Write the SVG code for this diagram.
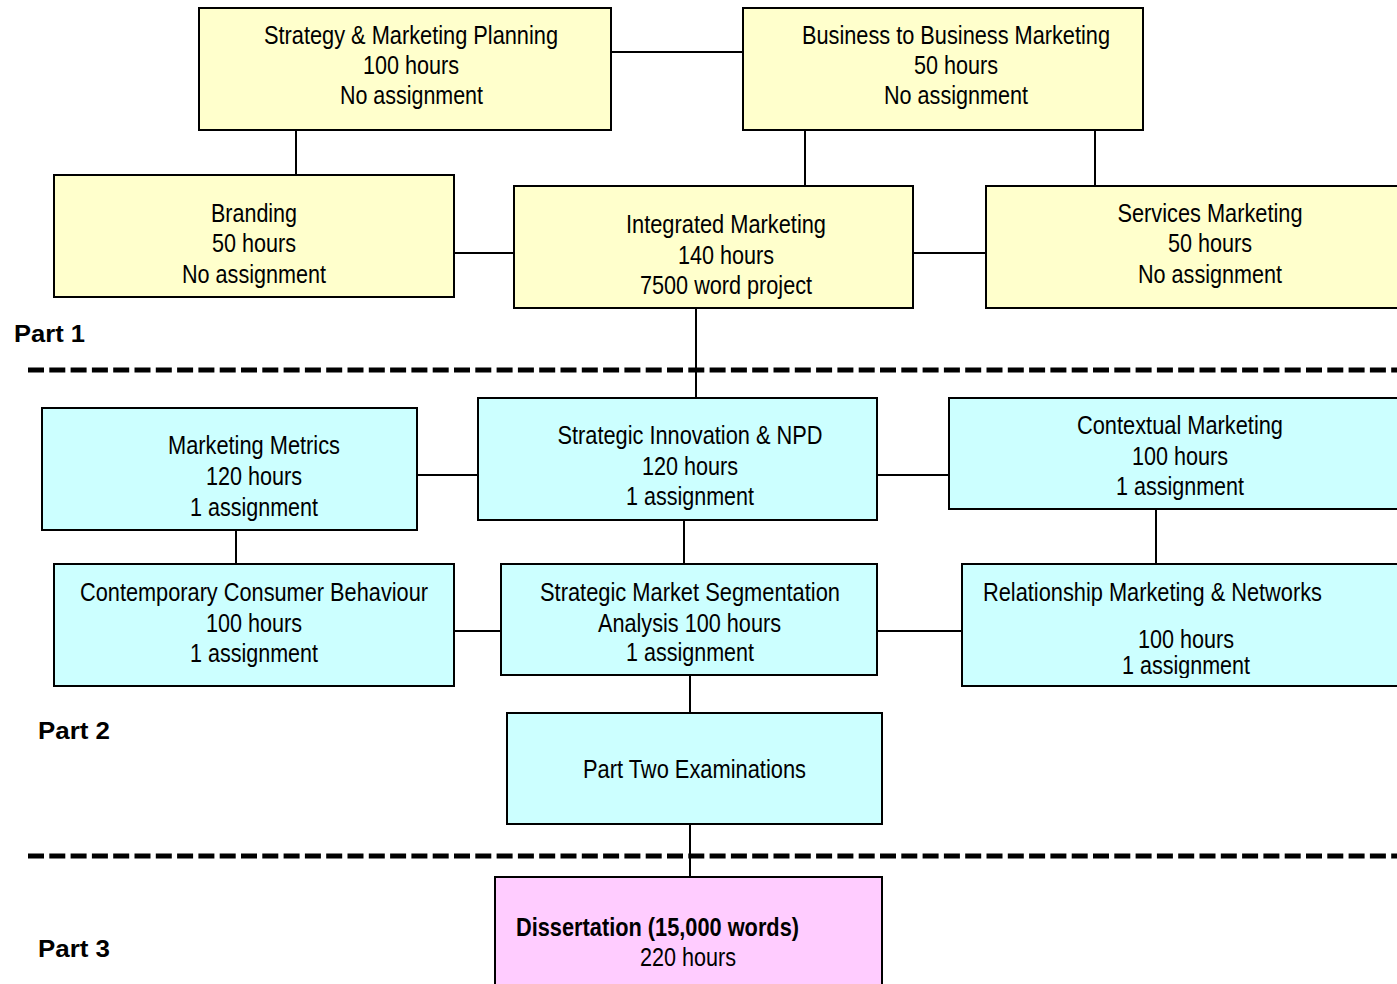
<svg xmlns="http://www.w3.org/2000/svg" width="1397" height="984" viewBox="0 0 1397 984">
<style>
.box{stroke:#000;stroke-width:2}
.y{fill:#FFFFCC}
.c{fill:#CCFFFF}
.p{fill:#FFCCFF}
.t{font-family:"Liberation Sans Narrow","Arial Narrow","Liberation Sans",Arial,sans-serif;font-size:25px;fill:#000;text-anchor:middle}
.tl{text-anchor:start}
.b{font-weight:bold}
.part{font-family:"Liberation Sans",Arial,sans-serif;font-size:24px;font-weight:bold;fill:#000}
.conn line{stroke:#000;stroke-width:2}
.dash{stroke:#000;stroke-width:5;stroke-dasharray:16 5.3}
</style>
<defs>
<clipPath id="clipSeg"><rect x="501" y="564" width="376" height="102"/></clipPath>
<clipPath id="clipRel"><rect x="962" y="564" width="435" height="114"/></clipPath>
</defs>
<rect width="1397" height="984" fill="#fff"/>

<g id="dividers">
<line class="dash" x1="28" y1="370" x2="1397" y2="370"/>
<line class="dash" x1="28" y1="856" x2="1397" y2="856"/>
</g>

<g id="connectors" class="conn">
<line x1="611" y1="52" x2="743" y2="52"/>
<line x1="296" y1="130" x2="296" y2="175"/>
<line x1="805" y1="130" x2="805" y2="186"/>
<line x1="1095" y1="130" x2="1095" y2="186"/>
<line x1="454" y1="253" x2="514" y2="253"/>
<line x1="913" y1="253" x2="986" y2="253"/>
<line x1="696" y1="308" x2="696" y2="398"/>
<line x1="417" y1="475" x2="478" y2="475"/>
<line x1="877" y1="475" x2="949" y2="475"/>
<line x1="236" y1="530" x2="236" y2="564"/>
<line x1="684" y1="520" x2="684" y2="564"/>
<line x1="1156" y1="509" x2="1156" y2="564"/>
<line x1="454" y1="631" x2="501" y2="631"/>
<line x1="877" y1="631" x2="962" y2="631"/>
<line x1="690" y1="675" x2="690" y2="713"/>
<line x1="690" y1="824" x2="690" y2="877"/>
</g>

<g id="n-strategy">
<rect class="box y" x="199" y="8" width="412" height="122"/>
<text class="t" x="411" y="43.5" textLength="294" lengthAdjust="spacingAndGlyphs">Strategy &amp; Marketing Planning</text>
<text class="t" x="411" y="73.5" textLength="96" lengthAdjust="spacingAndGlyphs">100 hours</text>
<text class="t" x="411.5" y="103.5" textLength="143" lengthAdjust="spacingAndGlyphs">No assignment</text>
</g>
<g id="n-b2b">
<rect class="box y" x="743" y="8" width="400" height="122"/>
<text class="t" x="956" y="43.5" textLength="308" lengthAdjust="spacingAndGlyphs">Business to Business Marketing</text>
<text class="t" x="956" y="73.5" textLength="84" lengthAdjust="spacingAndGlyphs">50 hours</text>
<text class="t" x="956" y="103.5" textLength="144" lengthAdjust="spacingAndGlyphs">No assignment</text>
</g>
<g id="n-branding">
<rect class="box y" x="54" y="175" width="400" height="122"/>
<text class="t" x="254" y="221.5" textLength="86" lengthAdjust="spacingAndGlyphs">Branding</text>
<text class="t" x="254" y="251.5" textLength="84" lengthAdjust="spacingAndGlyphs">50 hours</text>
<text class="t" x="254" y="282.5" textLength="144" lengthAdjust="spacingAndGlyphs">No assignment</text>
</g>
<g id="n-integrated">
<rect class="box y" x="514" y="186" width="399" height="122"/>
<text class="t" x="726" y="232.5" textLength="200" lengthAdjust="spacingAndGlyphs">Integrated Marketing</text>
<text class="t" x="726" y="263.5" textLength="96" lengthAdjust="spacingAndGlyphs">140 hours</text>
<text class="t" x="726" y="293.5" textLength="172" lengthAdjust="spacingAndGlyphs">7500 word project</text>
</g>
<g id="n-services">
<rect class="box y" x="986" y="186" width="420" height="122"/>
<text class="t" x="1210" y="221.5" textLength="185" lengthAdjust="spacingAndGlyphs">Services Marketing</text>
<text class="t" x="1210" y="251.5" textLength="84" lengthAdjust="spacingAndGlyphs">50 hours</text>
<text class="t" x="1210" y="282.5" textLength="144" lengthAdjust="spacingAndGlyphs">No assignment</text>
</g>

<g id="n-metrics">
<rect class="box c" x="42" y="408" width="375" height="122"/>
<text class="t" x="254" y="454" textLength="172" lengthAdjust="spacingAndGlyphs">Marketing Metrics</text>
<text class="t" x="254" y="485" textLength="96" lengthAdjust="spacingAndGlyphs">120 hours</text>
<text class="t" x="254" y="516" textLength="128" lengthAdjust="spacingAndGlyphs">1 assignment</text>
</g>
<g id="n-innovation">
<rect class="box c" x="478" y="398" width="399" height="122"/>
<text class="t" x="690" y="443.5" textLength="265" lengthAdjust="spacingAndGlyphs">Strategic Innovation &amp; NPD</text>
<text class="t" x="690" y="474.5" textLength="96" lengthAdjust="spacingAndGlyphs">120 hours</text>
<text class="t" x="690" y="504.5" textLength="128" lengthAdjust="spacingAndGlyphs">1 assignment</text>
</g>
<g id="n-contextual">
<rect class="box c" x="949" y="398" width="460" height="111"/>
<text class="t" x="1180" y="433.5" textLength="206" lengthAdjust="spacingAndGlyphs">Contextual Marketing</text>
<text class="t" x="1180" y="464.5" textLength="96" lengthAdjust="spacingAndGlyphs">100 hours</text>
<text class="t" x="1180" y="494.5" textLength="128" lengthAdjust="spacingAndGlyphs">1 assignment</text>
</g>
<g id="n-consumer">
<rect class="box c" x="54" y="564" width="400" height="122"/>
<text class="t" x="254" y="600.5" textLength="348" lengthAdjust="spacingAndGlyphs">Contemporary Consumer Behaviour</text>
<text class="t" x="254" y="631.5" textLength="96" lengthAdjust="spacingAndGlyphs">100 hours</text>
<text class="t" x="254" y="661.5" textLength="128" lengthAdjust="spacingAndGlyphs">1 assignment</text>
</g>
<g id="n-segmentation">
<rect class="box c" x="501" y="564" width="376" height="111"/>
<g clip-path="url(#clipSeg)">
<text class="t" x="690" y="600.5" textLength="300" lengthAdjust="spacingAndGlyphs">Strategic Market Segmentation</text>
<text class="t" x="689.5" y="631.5" textLength="183" lengthAdjust="spacingAndGlyphs">Analysis 100 hours</text>
<text class="t" x="690" y="661" textLength="128" lengthAdjust="spacingAndGlyphs">1 assignment</text>
</g>
</g>
<g id="n-relationship">
<rect class="box c" x="962" y="564" width="450" height="122"/>
<g clip-path="url(#clipRel)">
<text class="t tl" x="983" y="600.5" textLength="339" lengthAdjust="spacingAndGlyphs">Relationship Marketing &amp; Networks</text>
<text class="t" x="1186" y="647.5" textLength="96" lengthAdjust="spacingAndGlyphs">100 hours</text>
<text class="t" x="1186" y="674" textLength="128" lengthAdjust="spacingAndGlyphs">1 assignment</text>
</g>
</g>
<g id="n-exams">
<rect class="box c" x="507" y="713" width="375" height="111"/>
<text class="t" x="694.5" y="778" textLength="223" lengthAdjust="spacingAndGlyphs">Part Two Examinations</text>
</g>

<g id="n-dissertation">
<rect class="box p" x="495" y="877" width="387" height="120"/>
<text class="t tl b" x="516" y="936" textLength="283" lengthAdjust="spacingAndGlyphs">Dissertation (15,000 words)</text>
<text class="t" x="688" y="966" textLength="96" lengthAdjust="spacingAndGlyphs">220 hours</text>
</g>

<g id="labels">
<text class="part" x="14" y="342" textLength="71" lengthAdjust="spacingAndGlyphs">Part 1</text>
<text class="part" x="38" y="739" textLength="72" lengthAdjust="spacingAndGlyphs">Part 2</text>
<text class="part" x="38" y="957" textLength="72" lengthAdjust="spacingAndGlyphs">Part 3</text>
</g>
</svg>
